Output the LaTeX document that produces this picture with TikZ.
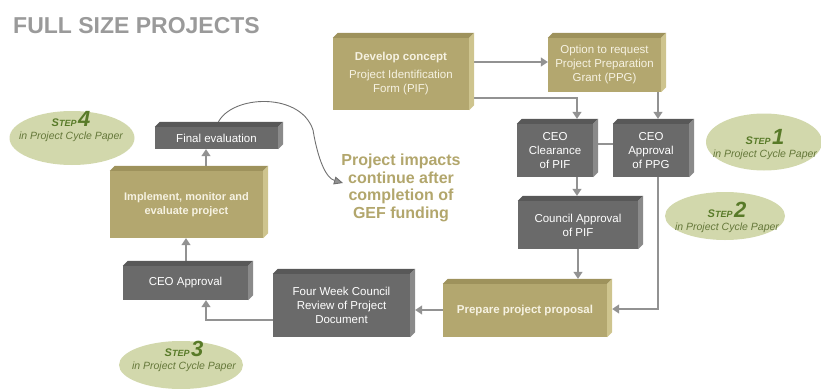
\documentclass[tikz,border=0pt]{standalone}
\usepackage{fontspec}
\setmainfont{Liberation Sans}
\usetikzlibrary{arrows.meta}
\usetikzlibrary{shapes.geometric}

\definecolor{olivefront}{HTML}{B3A76F}
\definecolor{olivetop}{HTML}{9E925C}
\definecolor{oliveside}{HTML}{CEC48E}
\definecolor{olivetext}{HTML}{F6F2E2}
\definecolor{grayfront}{HTML}{6A6A6A}
\definecolor{graytop}{HTML}{585858}
\definecolor{grayside}{HTML}{8A8A8A}
\definecolor{linegray}{HTML}{929292}
\definecolor{curvegray}{HTML}{707070}
\definecolor{stepfill}{HTML}{D2D8AC}
\definecolor{stepgreen}{HTML}{587A28}
\definecolor{papergreen}{HTML}{65783A}
\definecolor{titlegray}{HTML}{9A9A9A}
\definecolor{impacttext}{HTML}{B2A66C}

\newcommand{\boxfont}{\fontsize{11.5}{14}\selectfont}
\newcommand{\stepno}[1]{{\bfseries\itshape\color{stepgreen}\fontsize{11}{13}\selectfont S\fontsize{9}{13}\selectfont TEP\,\fontsize{22}{13}\selectfont#1}\\in Project Cycle Paper}
\newcommand{\boxbevel}[3]{%
  \fill[#2] (#1.north west) -- ++(5,-5) -- ([shift={(5,-5)}]#1.north east) -- (#1.north east) -- cycle;
  \fill[#3] (#1.north east) -- ([shift={(5,-5)}]#1.north east) -- ([shift={(5,-5)}]#1.south east) -- (#1.south east) -- cycle;}

\tikzset{
  olivebox/.style={rectangle, fill=olivefront, text=olivetext, align=center, inner sep=0pt, font=\boxfont},
  graybox/.style={rectangle, fill=grayfront, text=white, align=center, inner sep=0pt, font=\boxfont},
  stepell/.style={ellipse, fill=stepfill, inner sep=0pt},
  steptext/.style={align=center, text=papergreen, inner sep=0pt, font=\fontsize{10.5}{13}\selectfont\itshape},
  link/.style={draw=linegray, line width=1.3pt},
  arr/.style={link, -{Triangle[length=7pt,width=9pt]}},
}

\begin{document}
\begin{tikzpicture}[x=1pt,y=-1pt]
\useasboundingbox (0,0) rectangle (821,388);

\node[stepell, minimum width=116pt, minimum height=57pt] (st1) at (764,142) {};
\node[stepell, minimum width=120pt, minimum height=48pt] (st2) at (725,216) {};
\node[stepell, minimum width=124pt, minimum height=48pt] (st3) at (181,365) {};
\node[stepell, minimum width=125pt, minimum height=54pt] (st4) at (72,138) {};

\node[anchor=base west, inner sep=0pt, text=titlegray, font=\fontsize{23}{23}\selectfont\bfseries] (title) at (13,33) {FULL SIZE PROJECTS};

\node[olivebox, minimum width=136pt, minimum height=72pt] (dev) at (401,74) {\textbf{Develop concept}\\[4pt]Project Identification\\Form (PIF)};
\node[olivebox, minimum width=113pt, minimum height=54pt] (ppg) at (604.5,65) {Option to request\\Project Preparation\\Grant (PPG)};
\node[graybox, minimum width=76pt, minimum height=53pt] (clr) at (555,150.5) {CEO\\Clearance\\of PIF};
\node[graybox, minimum width=76pt, minimum height=53pt] (app) at (651,150.5) {CEO\\Approval\\of PPG};
\node[graybox, minimum width=120pt, minimum height=48pt] (cnc) at (578,225) {Council Approval\\of PIF};
\node[olivebox, minimum width=164pt, minimum height=53pt, font=\boxfont\bfseries] (prep) at (525,310.5) {Prepare project proposal};
\node[graybox, minimum width=137pt, minimum height=63pt] (rev) at (341.5,305.5) {Four Week Council\\Review of Project\\Document};
\node[graybox, minimum width=125pt, minimum height=34pt] (ceo) at (185.5,283) {CEO Approval};
\node[olivebox, minimum width=153pt, minimum height=67pt, font=\fontsize{11}{14}\selectfont\bfseries] (impl) at (186.5,204.5) {Implement, monitor and\\evaluate project};
\node[graybox, minimum width=123pt, minimum height=22pt] (fin) at (216.5,138) {Final evaluation};

\node[align=center, inner sep=0pt, text=impacttext, font=\fontsize{16}{17.5}\selectfont\bfseries] (imp) at (401,188) {Project impacts\\continue after\\completion of\\GEF funding};
\coordinate (impend) at (343,183);

\draw[arr] (dev.east |- 0,62) -- (ppg.west |- 0,62);
\draw[arr, shorten >=5pt] (dev.east |- 0,98) -| (clr.north -| 577,0);
\draw[arr, shorten >=5pt] (ppg.south -| 658,0) -- (app.north -| 658,0);
\draw[link] (clr.east |- 0,144) -- (app.west |- 0,144);
\draw[arr, shorten >=5pt] (clr.south -| 577,0) -- (cnc.north -| 577,0);
\draw[arr, shorten >=5pt] (cnc.south -| 578,0) -- (prep.north -| 578,0);
\draw[arr, shorten >=5pt] (app.south -| 658,0) |- (prep.east |- 0,309);
\draw[arr, shorten >=5pt] (prep.west |- 0,310) -- (rev.east |- 0,310);
\draw[arr] (rev.west |- 0,320) -| (ceo.south -| 206,0);
\draw[arr] (ceo.north -| 186,0) -- (impl.south -| 186,0);
\draw[arr] (impl.north -| 206,0) -- (fin.south -| 206,0);
\draw[draw=curvegray, line width=0.9pt, -{Triangle[length=9pt,width=8pt,fill=linegray]}] (fin.north) .. controls (225,95) and (300,90) .. (313,130) .. controls (318,160) and (326,178) .. (impend);

\foreach \n in {dev,ppg,prep,impl} {\boxbevel{\n}{olivetop}{oliveside}}
\foreach \n in {clr,app,cnc,rev,ceo,fin} {\boxbevel{\n}{graytop}{grayside}}

\node[steptext] (st1t) at (765,145) {\stepno{1}};
\node[steptext] (st2t) at (727,217) {\stepno{2}};
\node[steptext] (st3t) at (184,356) {\stepno{3}};
\node[steptext] (st4t) at (71,127) {\stepno{4}};
\end{tikzpicture}
\end{document}
